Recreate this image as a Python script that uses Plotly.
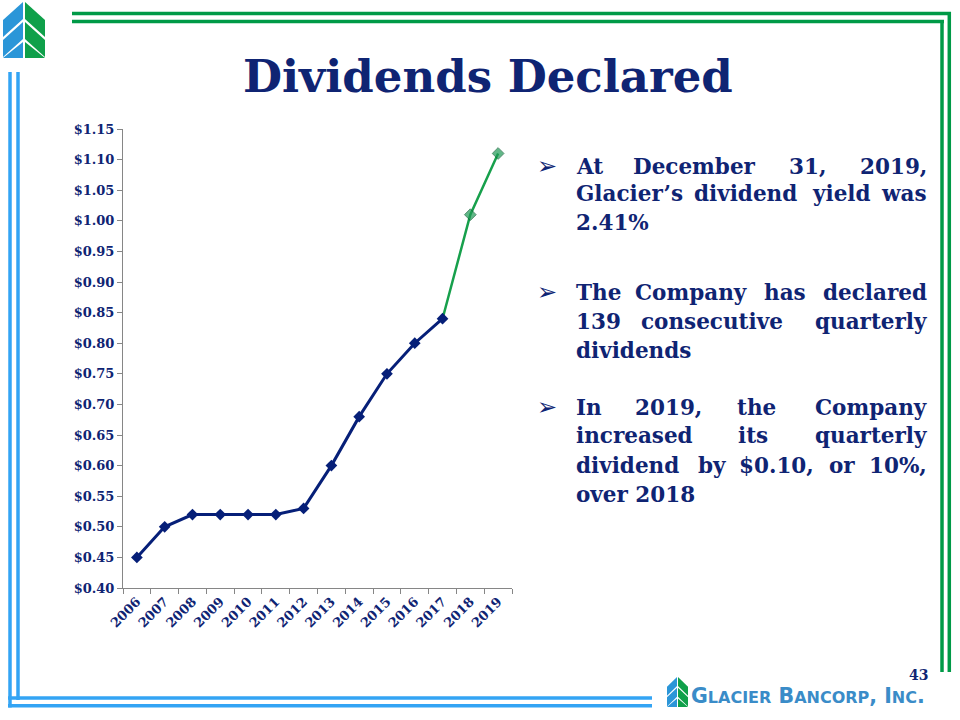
import plotly.graph_objects as go

# ---------------- data ----------------
years = ["2006", "2007", "2008", "2009", "2010", "2011", "2012",
         "2013", "2014", "2015", "2016", "2017", "2018", "2019"]
dividends = [0.45, 0.50, 0.52, 0.52, 0.52, 0.52, 0.53,
             0.60, 0.68, 0.75, 0.80, 0.84, 1.01, 1.11]
split_year = "2017"   # navy up to 2017, green after

title_text = "Dividends Declared"
page_number = "43"
company = "GLACIER BANCORP, INC."

# bullet paragraphs, already broken into the reference's lines
bullets = [
    ["At December 31, 2019,",
     "Glacier\u2019s dividend yield was",
     "2.41%"],
    ["The Company has declared",
     "139 consecutive quarterly",
     "dividends"],
    ["In 2019, the Company",
     "increased its quarterly",
     "dividend by $0.10, or 10%,",
     "over 2018"],
]
bullet_line_y = [[166, 194, 222], [292, 321, 350], [407, 436, 465, 494]]

W, H = 960, 720
NAVY = "#0f2473"
LINE_NAVY = "#061f78"
GREEN = "#17a04c"
BORDER_GREEN = "#009a47"
BORDER_BLUE = "#33a4f4"
LOGO_BLUE = "#2b96d8"
LOGO_GREEN = "#0fa04a"
SERIF = "DejaVu Serif"
BODY_SIZE = 21.5
TEXT_L, TEXT_R = 575, 928

# approximate advance widths (em) of DejaVu Serif Bold, for justification
CW = {' ': .35, ',': .38, '.': .38, '%': 1.0, '$': .696, '\u2019': .38,
      'A': .78, 'C': .78, 'D': .83, 'G': .84, 'I': .47, 'T': .73,
      'a': .675, 'b': .71, 'c': .59, 'd': .71, 'e': .64, 'h': .76, 'i': .38,
      'l': .38, 'm': 1.06, 'n': .76, 'o': .66, 'p': .71, 'q': .71, 'r': .53,
      's': .56, 't': .47, 'u': .76, 'v': .65, 'w': .92, 'y': .65}


def text_width(s, size):
    return sum(CW.get(ch, .696) for ch in s) * size * 1.04


def px(x):
    return x / W


def py(y):
    return 1 - y / H


split = years.index(split_year)

fig = go.Figure()

# green segment (2017 -> 2019)
fig.add_trace(go.Scatter(
    x=years[split:], y=dividends[split:], mode="lines+markers",
    line=dict(color=GREEN, width=2.5),
    marker=dict(symbol="diamond", size=[0] + [9] * (len(years) - split - 1),
                color="#1f9a55", line=dict(color="#0b5e33", width=1)),
    showlegend=False, hoverinfo="x+y"))

# navy segment (2006 -> 2017)
fig.add_trace(go.Scatter(
    x=years[:split + 1], y=dividends[:split + 1], mode="lines+markers",
    line=dict(color=LINE_NAVY, width=3),
    marker=dict(symbol="diamond", size=9, color=LINE_NAVY),
    showlegend=False, hoverinfo="x+y"))

tickfont = dict(family=SERIF, size=13, color=NAVY, weight="bold")

fig.update_layout(
    width=W, height=H, autosize=False,
    margin=dict(l=0, r=0, t=0, b=0, pad=0, autoexpand=False),
    paper_bgcolor="white", plot_bgcolor="white",
    xaxis=dict(
        domain=[px(123), px(512)], type="category",
        categoryorder="array", categoryarray=years,
        range=[-0.5, len(years) - 0.5], automargin=False,
        showgrid=False, zeroline=False,
        showline=True, linecolor="#868686", linewidth=1,
        ticks="outside", ticklen=5, tickcolor="#868686", tickson="boundaries",
        tickangle=-45, tickfont=tickfont,
    ),
    yaxis=dict(
        domain=[py(588), py(129)], automargin=False,
        range=[0.40, 1.15], dtick=0.05, tick0=0.40,
        tickprefix="$", tickformat=".2f",
        showgrid=False, zeroline=False,
        showline=True, linecolor="#868686", linewidth=1,
        ticks="outside", ticklen=5, tickcolor="#868686",
        tickfont=tickfont,
    ),
)

shapes = []


def hline(x0, x1, y, color, w=3.5):
    shapes.append(dict(type="line", xref="paper", yref="paper",
                       x0=px(x0), x1=px(x1), y0=py(y), y1=py(y),
                       line=dict(color=color, width=w)))


def vline(x, y0, y1, color, w=3.5):
    shapes.append(dict(type="line", xref="paper", yref="paper",
                       x0=px(x), x1=px(x), y0=py(y0), y1=py(y1),
                       line=dict(color=color, width=w)))


# green border (top / right)
hline(72, 951, 13.5, BORDER_GREEN)
hline(72, 944, 21.5, BORDER_GREEN)
vline(949.3, 12, 672, BORDER_GREEN)
vline(942, 20, 672, BORDER_GREEN)
# blue border (left / bottom)
vline(10, 72, 707.5, BORDER_BLUE)
vline(18, 72, 700, BORDER_BLUE)
hline(8, 652, 698, BORDER_BLUE)
hline(8, 652, 705.7, BORDER_BLUE)


def poly(points, color):
    d = "M " + " L ".join(f"{px(x):.5f},{py(y):.5f}" for x, y in points) + " Z"
    shapes.append(dict(type="path", xref="paper", yref="paper", path=d,
                       fillcolor=color, line=dict(width=0)))


def logo(x0, y0, w, h):
    # design box 42 x 56
    sx, sy = w / 42.0, h / 56.0

    def P(pts):
        return [(x0 + a * sx, y0 + b * sy) for a, b in pts]
    # blue left half: slanted stripes
    poly(P([(0, 18), (20, 0), (20, 17), (0, 35)]), LOGO_BLUE)
    poly(P([(0, 38), (20, 20), (20, 37), (0, 55)]), LOGO_BLUE)
    poly(P([(0, 56), (20, 40), (20, 56)]), LOGO_BLUE)
    # green right half, mirrored
    poly(P([(42, 18), (22, 0), (22, 17), (42, 35)]), LOGO_GREEN)
    poly(P([(42, 38), (22, 20), (22, 37), (42, 55)]), LOGO_GREEN)
    poly(P([(42, 56), (22, 40), (22, 56)]), LOGO_GREEN)


logo(3, 2, 42, 56)
logo(667, 677, 21, 30)

annotations = []


def txt(text, x, y, size, xanchor="center", color=NAVY, family=SERIF, bold=True):
    annotations.append(dict(
        text=text, x=px(x), y=py(y), xref="paper", yref="paper",
        xanchor=xanchor, yanchor="middle", showarrow=False, borderpad=0,
        font=dict(family=family, size=size, color=color,
                  weight="bold" if bold else "normal")))


# title
txt(title_text, 488, 77, 45)

# bullet text, justified between TEXT_L and TEXT_R (last line left-aligned)
for lines, ys in zip(bullets, bullet_line_y):
    txt("\u27a2", 547, ys[0], 24, family="DejaVu Sans", bold=False)
    for li, (line, yc) in enumerate(zip(lines, ys)):
        words = line.split(" ")
        if li == len(lines) - 1 or len(words) == 1:
            txt(line, TEXT_L, yc, BODY_SIZE, xanchor="left")
            continue
        widths = [text_width(wd, BODY_SIZE) for wd in words]
        gap = (TEXT_R - TEXT_L - sum(widths)) / (len(words) - 1)
        x = TEXT_L
        for i, (wd, wdt) in enumerate(zip(words, widths)):
            if i == len(words) - 1:
                txt(wd, TEXT_R, yc, BODY_SIZE, xanchor="right")
            else:
                txt(wd, x, yc, BODY_SIZE, xanchor="left")
            x += wdt + gap

# page number
txt(page_number, 918, 675, 14)

# company name in small caps
parts = []
for word in company.split(" "):
    head, rest = word[0], word[1:]
    tail = ""
    while rest and not rest[-1].isalpha():
        tail = rest[-1] + tail
        rest = rest[:-1]
    parts.append(f"{head}<span style='font-size:16px'>{rest}</span>{tail}")
txt(" ".join(parts), 926, 696, 20.5, xanchor="right", color="#3a8cc8",
    family="DejaVu Sans")

fig.update_layout(shapes=shapes, annotations=annotations)

fig.write_html("out.html")
